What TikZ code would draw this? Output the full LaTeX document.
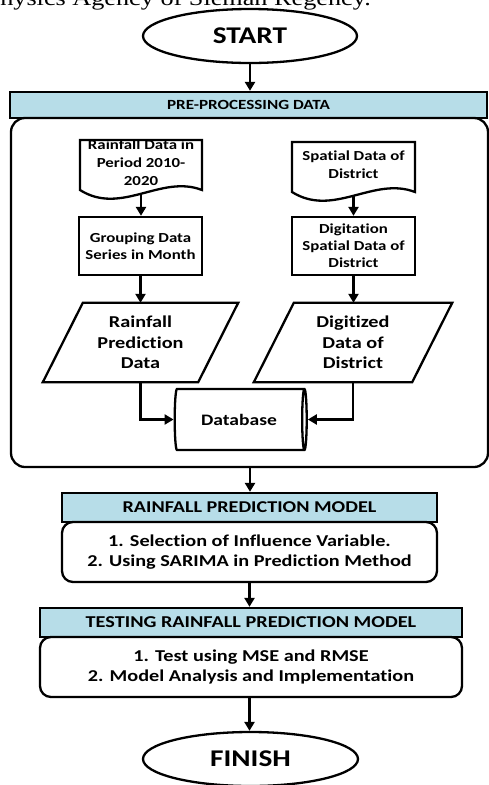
\documentclass[tikz,border=0pt]{standalone}
\usepackage{fontspec}
\setmainfont[FakeStretch=1.22,Ligatures=NoCommon]{Carlito}
\newfontfamily\capfont[FakeStretch=1.22]{Liberation Serif}
\usetikzlibrary{shapes.geometric,arrows.meta}
\definecolor{barblue}{HTML}{B7DDE8}
\newcommand\fsz[2]{\fontsize{#1}{#2}\selectfont}
\begin{document}
\begin{tikzpicture}[x=1pt,y=-1pt,
  ln/.style={line width=2.3pt},
  arr/.style={line width=2.3pt,-{Triangle[length=9pt,width=10pt]}},
  term/.style={ellipse,draw,ln,inner sep=0pt,font=\bfseries\fsz{24}{28}},
  barbox/.style={draw,ln,fill=barblue,rectangle,inner sep=0pt,font=\bfseries\fsz{14}{16}},
  stepbox/.style={draw,ln,rectangle,rounded corners=11pt,inner sep=0pt,align=center,font=\bfseries\fsz{16.6}{20}},
  procbox/.style={draw,ln,rectangle,inner sep=0pt,align=center,minimum width=123pt,minimum height=58pt,font=\bfseries\fsz{13.8}{17}},
  doctext/.style={rectangle,inner sep=0pt,align=center,font=\bfseries\fsz{13.8}{18}},
  iobox/.style={rectangle,inner sep=0pt,align=center,minimum height=79pt,font=\bfseries\fsz{16.6}{20.5}},
  docshape/.style={ln,line join=miter},
]
\useasboundingbox (0,0) rectangle (489,785);

% cut-off caption line at the very top
\node[anchor=base east,inner sep=0pt,font=\capfont\fsz{21.5}{24}] (cap) at (371,5) {Geophysics Agency of Sleman Regency.};

% start
\node[term,minimum width=214pt,minimum height=54pt] (start) at (250,36) {START};

% pre-processing
\node[barbox,minimum width=477pt,minimum height=26pt] (pre) at (248.5,105) {PRE-PROCESSING DATA};
\node[draw,ln,rectangle,rounded corners=14pt,minimum width=477pt,minimum height=349pt] (prebox) at (249.5,292.5) {};

% documents
\node[doctext] (d1) at (141,163) {Rainfall Data in\\Period 2010-\\2020};
\draw[docshape] ([shift={(-61,27)}]d1.center) -- ([shift={(-61,-23)}]d1.center) -- ([shift={(61,-23)}]d1.center) -- ([shift={(61,27)}]d1.center)
  .. controls ([shift={(20,11)}]d1.center) and ([shift={(-20,53)}]d1.center) .. ([shift={(-61,27)}]d1.center) -- cycle;
\coordinate (d1w) at ([shift={(0,30)}]d1.center);
\node[doctext] (d2) at (353.5,164.5) {Spatial Data of\\District};
\draw[docshape] ([shift={(-61.5,27.5)}]d2.center) -- ([shift={(-61.5,-22.5)}]d2.center) -- ([shift={(61.5,-22.5)}]d2.center) -- ([shift={(61.5,27.5)}]d2.center)
  .. controls ([shift={(20,11.5)}]d2.center) and ([shift={(-20,53.5)}]d2.center) .. ([shift={(-61.5,27.5)}]d2.center) -- cycle;
\coordinate (d2w) at ([shift={(0,30.5)}]d2.center);

% processes
\node[procbox] (g1) at (140.5,246) {Grouping Data\\Series in Month};
\node[procbox] (g2) at (353.5,246) {Digitation\\Spatial Data of\\District};

% input/output parallelograms
\node[iobox,minimum width=155pt] (p1) at (140.5,342.5) {Rainfall\\Prediction\\Data};
\draw[ln] ([xshift=-20pt]p1.south west) -- ([xshift=-20pt]p1.south east) -- ([xshift=20pt]p1.north east) -- ([xshift=20pt]p1.north west) -- cycle;
\node[iobox,minimum width=158pt] (p2) at (353,342.5) {Digitized\\Data of\\District};
\draw[ln] ([xshift=-20pt]p2.south west) -- ([xshift=-20pt]p2.south east) -- ([xshift=20pt]p2.north east) -- ([xshift=20pt]p2.north west) -- cycle;

% database
\node[cylinder,draw,ln,aspect=0.4,minimum width=61pt,minimum height=132pt,inner sep=0pt,font=\bfseries\fsz{16}{20}] (db) at (239,419.5) {Database};

% rainfall prediction model
\node[barbox,minimum width=375pt,minimum height=29pt,font=\bfseries\fsz{16.5}{18}] (rpm) at (249.5,507.5) {RAINFALL PREDICTION MODEL};
\node[stepbox,minimum width=375pt,minimum height=60pt] (rpmbox) at (249.5,552) {1. Selection of Influence Variable.\\2. Using SARIMA in Prediction Method};

% testing
\node[barbox,minimum width=422pt,minimum height=29pt,font=\bfseries\fsz{16.6}{18}] (tst) at (251,622.5) {TESTING RAINFALL PREDICTION MODEL};
\node[stepbox,minimum width=422pt,minimum height=60pt] (tstbox) at (251,667) {1. Test using MSE and RMSE\\2. Model Analysis and Implementation};

% finish
\node[term,minimum width=215pt,minimum height=54pt] (finish) at (250.5,759) {FINISH};

% connectors
\draw[arr] (start.south) -- (start.south |- pre.north);
\draw[arr] (d1w) -- (d1w |- g1.north);
\draw[arr] (d2w) -- (d2w |- g2.north);
\draw[arr] (g1.south) -- (g1.south |- p1.north);
\draw[arr] (g2.south) -- (g2.south |- p2.north);
\draw[arr] (p1.south) |- (db.west);
\draw[arr] (p2.south) |- (db.east);
\draw[arr] ([xshift=0.5pt]prebox.south) -- ([xshift=0.5pt]prebox.south |- rpm.north);
\draw[arr] (rpmbox.south) -- (rpmbox.south |- tst.north);
\draw[arr] (rpmbox.south |- tstbox.south) -- (rpmbox.south |- finish.north);
\end{tikzpicture}
\end{document}
